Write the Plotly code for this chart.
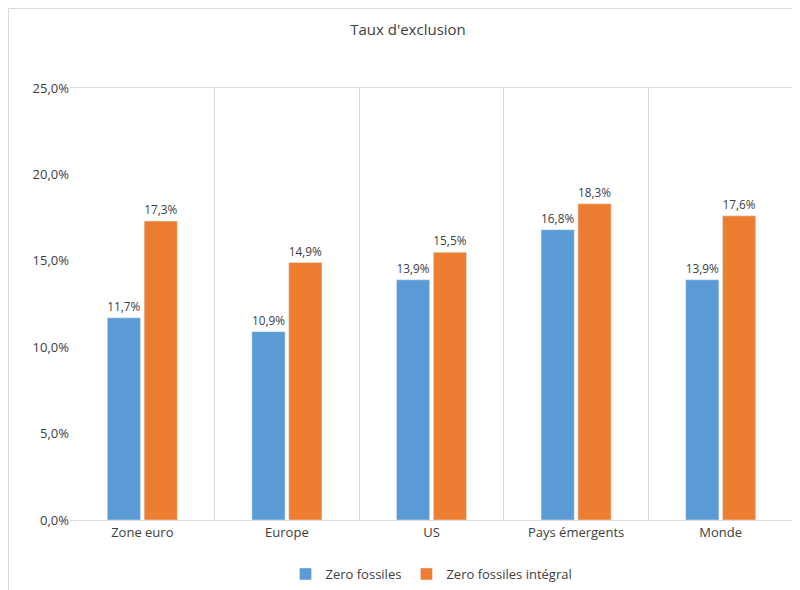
import plotly.graph_objects as go

categories = ["Zone euro", "Europe", "US", "Pays émergents", "Monde"]
zero_fossiles = [0.117, 0.109, 0.139, 0.168, 0.139]
zero_fossiles_integral = [0.173, 0.149, 0.155, 0.183, 0.176]

font = dict(family="Open Sans, Roboto, sans-serif", color="#404040", size=13)
fig = go.Figure()
fig.add_bar(x=categories, y=zero_fossiles, name="Zero fossiles", marker_color="#5B9BD5",
            texttemplate="%{y:.1%}", textposition="outside", textfont=dict(size=12, color="#404040"),
            cliponaxis=False)
fig.add_bar(x=categories, y=zero_fossiles_integral, name="Zero fossiles intégral", marker_color="#ED7D31",
            texttemplate="%{y:.1%}", textposition="outside", textfont=dict(size=12, color="#404040"),
            cliponaxis=False)

L, R, T, B = 62, 15, 80, 78
W, H = 800 - L - R, 590 - T - B
fig.update_layout(
    width=800, height=590, separators=",.", font=font,
    paper_bgcolor="white", plot_bgcolor="white",
    margin=dict(l=L, r=R, t=T, b=B, autoexpand=False),
    title=dict(text="Taux d'exclusion", x=0.5, xanchor="center", y=1 - 22/590, yanchor="middle",
               font=dict(size=15, color="#404040")),
    bargap=0.49, bargroupgap=0.1,
    legend=dict(orientation="h", x=0.5, xanchor="center", y=-0.125, yanchor="middle", font=dict(size=13)),
    xaxis=dict(tickson="boundaries", showgrid=True, gridcolor="#D9D9D9", showline=True, linecolor="#D9D9D9",
               mirror=True, ticks="", tickfont=dict(size=13), automargin=False),
    yaxis=dict(range=[0, 0.25], dtick=0.05, tickformat=".1%", showgrid=False, zeroline=False,
               showline=False, tickfont=dict(size=13), automargin=False),
    shapes=[dict(type="rect", xref="paper", yref="paper",
                 x0=(0.5 - L)/W, x1=(799.5 - L)/W, y0=-(B - 0.5)/H, y1=1 + (T - 0.5)/H,
                 line=dict(color="#D9D9D9", width=1))],
)
fig.write_html("out.html")
